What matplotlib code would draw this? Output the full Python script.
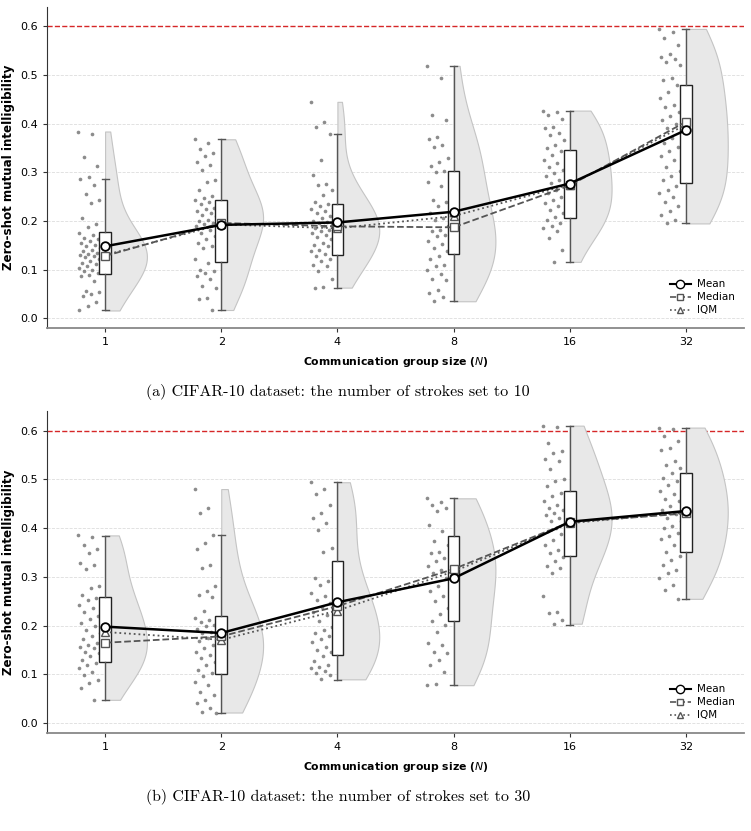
import numpy as np
import matplotlib
matplotlib.use("Agg")
import matplotlib.pyplot as plt
from matplotlib.lines import Line2D

# --- data ---
group_labels = ["1", "2", "4", "8", "16", "32"]

# panel (a): strokes = 10
pts_a = [
    [0.384, 0.378, 0.331, 0.314, 0.290, 0.286, 0.275, 0.255, 0.244, 0.237, 0.206, 0.193, 0.188,
     0.176, 0.172, 0.166, 0.162, 0.158, 0.155, 0.150, 0.148, 0.145, 0.141, 0.138, 0.134, 0.133,
     0.130, 0.128, 0.125, 0.121, 0.118, 0.114, 0.111, 0.108, 0.104, 0.100, 0.097, 0.094, 0.090,
     0.087, 0.076, 0.056, 0.053, 0.049, 0.045, 0.033, 0.025, 0.016],
    [0.368, 0.361, 0.348, 0.340, 0.333, 0.322, 0.316, 0.305, 0.285, 0.281, 0.264, 0.251, 0.247,
     0.244, 0.240, 0.234, 0.227, 0.224, 0.220, 0.217, 0.213, 0.210, 0.203, 0.200, 0.196, 0.193,
     0.189, 0.182, 0.176, 0.169, 0.162, 0.155, 0.148, 0.145, 0.121, 0.114, 0.100, 0.097, 0.094,
     0.087, 0.080, 0.066, 0.063, 0.042, 0.040, 0.017],
    [0.445, 0.404, 0.393, 0.379, 0.326, 0.295, 0.276, 0.273, 0.264, 0.254, 0.240, 0.234, 0.230,
     0.225, 0.220, 0.216, 0.211, 0.206, 0.201, 0.198, 0.196, 0.192, 0.189, 0.185, 0.182, 0.179,
     0.175, 0.172, 0.168, 0.162, 0.155, 0.150, 0.148, 0.141, 0.138, 0.133, 0.128, 0.122, 0.117,
     0.110, 0.107, 0.097, 0.080, 0.065, 0.063],
    [0.519, 0.495, 0.418, 0.407, 0.372, 0.368, 0.356, 0.353, 0.329, 0.322, 0.313, 0.302, 0.300,
     0.281, 0.272, 0.244, 0.240, 0.230, 0.216, 0.206, 0.203, 0.189, 0.182, 0.179, 0.172, 0.169,
     0.159, 0.152, 0.145, 0.138, 0.128, 0.122, 0.110, 0.107, 0.100, 0.092, 0.081, 0.078, 0.059,
     0.052, 0.044, 0.035],
    [0.427, 0.425, 0.418, 0.409, 0.393, 0.391, 0.380, 0.377, 0.367, 0.357, 0.350, 0.343, 0.336,
     0.326, 0.319, 0.312, 0.305, 0.298, 0.292, 0.285, 0.278, 0.271, 0.264, 0.257, 0.250, 0.244,
     0.237, 0.230, 0.223, 0.216, 0.209, 0.203, 0.196, 0.190, 0.186, 0.179, 0.165, 0.141, 0.116],
    [0.595, 0.589, 0.577, 0.562, 0.544, 0.537, 0.534, 0.527, 0.520, 0.493, 0.490, 0.480, 0.466,
     0.452, 0.439, 0.434, 0.425, 0.415, 0.408, 0.400, 0.391, 0.380, 0.370, 0.360, 0.353, 0.343,
     0.333, 0.326, 0.312, 0.302, 0.292, 0.285, 0.271, 0.264, 0.257, 0.250, 0.240, 0.230, 0.220,
     0.213, 0.203, 0.195],
]
# box stats: q1, q3, lower whisker, upper whisker
q1_a = [0.092, 0.116, 0.131, 0.133, 0.206, 0.279]
q3_a = [0.177, 0.244, 0.234, 0.302, 0.345, 0.480]
wlo_a = [0.016, 0.016, 0.063, 0.035, 0.116, 0.195]
whi_a = [0.287, 0.369, 0.379, 0.519, 0.426, 0.595]
mean_a = [0.148, 0.192, 0.197, 0.219, 0.277, 0.387]
median_a = [0.128, 0.196, 0.189, 0.187, 0.273, 0.404]
iqm_a = [0.130, 0.193, 0.185, 0.210, 0.275, 0.398]

# panel (b): strokes = 30
pts_b = [
    [0.385, 0.382, 0.366, 0.357, 0.349, 0.329, 0.325, 0.316, 0.281, 0.277, 0.263, 0.257, 0.252,
     0.243, 0.236, 0.229, 0.219, 0.213, 0.206, 0.199, 0.192, 0.185, 0.178, 0.172, 0.164, 0.161,
     0.157, 0.154, 0.147, 0.144, 0.137, 0.130, 0.123, 0.120, 0.113, 0.106, 0.099, 0.089, 0.082,
     0.072, 0.048],
    [0.480, 0.441, 0.430, 0.385, 0.370, 0.357, 0.325, 0.318, 0.281, 0.271, 0.263, 0.259, 0.231,
     0.215, 0.212, 0.207, 0.202, 0.199, 0.193, 0.188, 0.185, 0.180, 0.175, 0.168, 0.161, 0.154,
     0.147, 0.140, 0.133, 0.126, 0.120, 0.109, 0.103, 0.096, 0.085, 0.079, 0.065, 0.058, 0.048,
     0.041, 0.031, 0.024, 0.022],
    [0.494, 0.480, 0.469, 0.448, 0.431, 0.421, 0.411, 0.397, 0.359, 0.352, 0.298, 0.291, 0.284,
     0.267, 0.260, 0.253, 0.246, 0.239, 0.229, 0.222, 0.209, 0.198, 0.192, 0.185, 0.178, 0.172,
     0.166, 0.157, 0.150, 0.147, 0.137, 0.127, 0.120, 0.116, 0.113, 0.108, 0.103, 0.099, 0.090],
    [0.461, 0.453, 0.448, 0.441, 0.435, 0.407, 0.394, 0.373, 0.366, 0.352, 0.349, 0.339, 0.332,
     0.322, 0.315, 0.308, 0.298, 0.281, 0.271, 0.260, 0.250, 0.236, 0.223, 0.209, 0.202, 0.188,
     0.164, 0.161, 0.147, 0.144, 0.130, 0.120, 0.106, 0.081, 0.078],
    [0.610, 0.608, 0.574, 0.558, 0.553, 0.542, 0.537, 0.522, 0.501, 0.497, 0.486, 0.472, 0.465,
     0.455, 0.448, 0.441, 0.437, 0.431, 0.426, 0.421, 0.414, 0.407, 0.400, 0.394, 0.387, 0.376,
     0.366, 0.356, 0.349, 0.341, 0.332, 0.322, 0.318, 0.307, 0.260, 0.229, 0.226, 0.212, 0.204],
    [0.606, 0.604, 0.589, 0.578, 0.565, 0.560, 0.537, 0.530, 0.523, 0.513, 0.503, 0.496, 0.489,
     0.476, 0.469, 0.460, 0.455, 0.446, 0.438, 0.428, 0.421, 0.414, 0.405, 0.400, 0.390, 0.383,
     0.378, 0.366, 0.352, 0.342, 0.335, 0.325, 0.315, 0.308, 0.297, 0.284, 0.273, 0.255],
]
q1_b = [0.125, 0.101, 0.140, 0.209, 0.342, 0.350]
q3_b = [0.259, 0.219, 0.332, 0.383, 0.476, 0.513]
wlo_b = [0.048, 0.022, 0.089, 0.079, 0.202, 0.255]
whi_b = [0.383, 0.385, 0.494, 0.461, 0.610, 0.606]
mean_b = [0.198, 0.185, 0.248, 0.297, 0.413, 0.435]
median_b = [0.165, 0.178, 0.240, 0.316, 0.412, 0.430]
iqm_b = [0.187, 0.171, 0.231, 0.311, 0.410, 0.432]

upper_bound = 0.6

captions = ["(a) CIFAR-10 dataset: the number of strokes set to 10",
            "(b) CIFAR-10 dataset: the number of strokes set to 30"]

plt.rcParams["font.family"] = "DejaVu Sans"
fig = plt.figure(figsize=(7.51, 8.31), dpi=100)

ax_a = fig.add_axes([47 / 751, 1 - 328 / 831, 697 / 751, 321 / 831])
ax_b = fig.add_axes([47 / 751, 1 - 733 / 831, 697 / 751, 322 / 831])


def raincloud(ax, pts, q1, q3, wlo, whi, mean, median, iqm):
    pos = np.arange(len(pts))

    # half violins on the right
    vp = ax.violinplot(pts, positions=pos, widths=0.72, showextrema=False, bw_method=0.55)
    for p, body in zip(pos, vp["bodies"]):
        v = body.get_paths()[0].vertices
        v[:, 0] = np.clip(v[:, 0], p, np.inf)
        body.set_facecolor("#e8e8e8")
        body.set_edgecolor("#c4c4c4")
        body.set_linewidth(0.8)
        body.set_alpha(1)
        body.set_zorder(1)

    # jittered points on the left (golden-ratio spread, no randomness)
    for p, ys in zip(pos, pts):
        k = np.arange(len(ys))
        off = -0.23 + 0.19 * ((k * 0.6180339887) % 1.0)
        ax.scatter(p + off, ys, s=7, color="#666666", alpha=0.75, lw=0, zorder=2)

    stats = [dict(q1=a, q3=b, whislo=c, whishi=d, med=m, fliers=[])
             for a, b, c, d, m in zip(q1, q3, wlo, whi, median)]
    ax.bxp(stats, positions=pos, widths=0.1, showfliers=False, patch_artist=True,
           boxprops=dict(facecolor="white", edgecolor="#222222", lw=1.0),
           whiskerprops=dict(color="#555555", lw=1.0),
           capprops=dict(color="#555555", lw=1.0),
           medianprops=dict(visible=False),
           capwidths=0.06, zorder=3)

    ax.plot(pos, iqm, ls=":", color="#555555", lw=1.3, marker="^", ms=5.5,
            mfc="white", mec="#555555", zorder=4)
    ax.plot(pos, median, ls="--", color="#555555", lw=1.3, marker="s", ms=5.5,
            mfc="white", mec="#555555", zorder=5)
    ax.plot(pos, mean, ls="-", color="black", lw=1.8, marker="o", ms=6.2,
            mfc="white", mec="black", mew=1.3, zorder=6)

    ax.axhline(upper_bound, color="#d62728", ls="--", lw=1.0, zorder=0)
    for yv in np.arange(0, 0.55, 0.1):
        ax.axhline(yv, color="#dddddd", ls="--", lw=0.6, zorder=0)

    ax.set_xlim(-0.5, 5.5)
    ax.set_ylim(-0.02, 0.64)
    ax.set_xticks(pos)
    ax.set_xticklabels(group_labels)
    ax.set_yticks(np.arange(0, 0.61, 0.1))
    ax.set_yticklabels([f"{t:.1f}" for t in np.arange(0, 0.61, 0.1)])
    ax.tick_params(labelsize=8, length=3, width=0.8, colors="#333333", labelcolor="black")
    for s in ["top", "right"]:
        ax.spines[s].set_visible(False)
    ax.spines["left"].set_color("#333333")
    ax.spines["bottom"].set_color("#888888")
    ax.spines["bottom"].set_linewidth(1.3)
    ax.set_xlabel(r"Communication group size ($N$)", fontsize=7.8, fontweight="bold", labelpad=6)
    ax.set_ylabel("Zero-shot mutual intelligibility", fontsize=8.6, fontweight="bold", labelpad=4)

    handles = [
        Line2D([], [], ls="-", color="black", lw=1.5, marker="o", ms=6, mfc="white", mec="black"),
        Line2D([], [], ls="--", color="#555555", lw=1.2, marker="s", ms=5, mfc="white", mec="#555555"),
        Line2D([], [], ls=":", color="#555555", lw=1.2, marker="^", ms=5, mfc="white", mec="#555555"),
    ]
    ax.legend(handles, ["Mean", "Median", "IQM"], loc="lower right", frameon=False,
              fontsize=7.5, handlelength=2.0, handletextpad=0.6, labelspacing=0.3,
              bbox_to_anchor=(1.0, 0.01))


raincloud(ax_a, pts_a, q1_a, q3_a, wlo_a, whi_a, mean_a, median_a, iqm_a)
raincloud(ax_b, pts_b, q1_b, q3_b, wlo_b, whi_b, mean_b, median_b, iqm_b)

fig.text(338 / 751, 1 - 392 / 831, captions[0], ha="center", va="center",
         family="cmr10", fontsize=11.5)
fig.text(338 / 751, 1 - 797 / 831, captions[1], ha="center", va="center",
         family="cmr10", fontsize=11.5)

fig.savefig("out.png", dpi=100)
